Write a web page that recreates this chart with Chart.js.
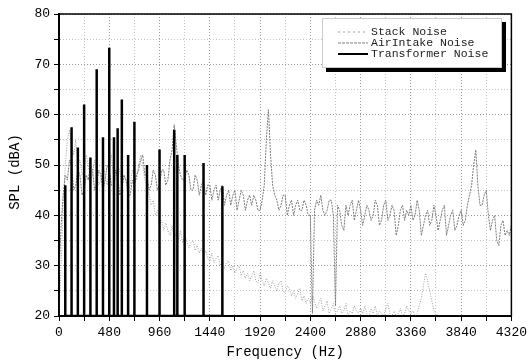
<!DOCTYPE html>
<html>
<head>
<meta charset="utf-8">
<script src="https://cdn.jsdelivr.net/npm/chart.js@4/dist/chart.umd.min.js"></script>
<style>
  html, body { margin: 0; padding: 0; background: #fff; }
  #wrap { width: 531px; height: 364px; }
</style>
</head>
<body>
<div id="wrap"><canvas id="splChart" width="531" height="364"></canvas></div>
<script>
// frequency grid (Hz) shared by the two broadband spectra
var freqHz = [
  0, 20, 40, 60, 80, 100, 120, 140, 160, 180, 200, 220, 240, 260, 280, 300, 320, 340, 360, 380, 400, 420, 440, 460,
  480, 500, 520, 540, 560, 580, 600, 620, 640, 660, 680, 700, 720, 740, 760, 780, 800, 820, 840, 860, 880, 900, 920, 940,
  960, 980, 1000, 1020, 1040, 1060, 1080, 1100, 1120, 1140, 1160, 1180, 1200, 1220, 1240, 1260, 1280, 1300, 1320, 1340, 1360, 1380, 1400, 1420,
  1440, 1460, 1480, 1500, 1520, 1540, 1560, 1580, 1600, 1620, 1640, 1660, 1680, 1700, 1720, 1740, 1760, 1780, 1800, 1820, 1840, 1860, 1880, 1900,
  1920, 1940, 1960, 1980, 2000, 2020, 2040, 2060, 2080, 2100, 2120, 2140, 2160, 2180, 2200, 2220, 2240, 2260, 2280, 2300, 2320, 2340, 2360, 2380,
  2400, 2420, 2440, 2460, 2480, 2500, 2520, 2540, 2560, 2580, 2600, 2620, 2640, 2660, 2680, 2700, 2720, 2740, 2760, 2780, 2800, 2820, 2840, 2860,
  2880, 2900, 2920, 2940, 2960, 2980, 3000, 3020, 3040, 3060, 3080, 3100, 3120, 3140, 3160, 3180, 3200, 3220, 3240, 3260, 3280, 3300, 3320, 3340,
  3360, 3380, 3400, 3420, 3440, 3460, 3480, 3500, 3520, 3540, 3560, 3580, 3600, 3620, 3640, 3660, 3680, 3700, 3720, 3740, 3760, 3780, 3800, 3820,
  3840, 3860, 3880, 3900, 3920, 3940, 3960, 3980, 4000, 4020, 4040, 4060, 4080, 4100, 4120, 4140, 4160, 4180, 4200, 4220, 4240, 4260, 4280, 4300,
  4320
];

var stackNoise = [
  20, 30, 42, 50, 55, 57, 54, 52, 55, 50, 51, 48, 49, 52, 50, 47, 48, 51, 49, 46, 47, 50, 48, 46,
  50, 52, 48, 47, 50, 49, 46, 48, 47, 45, 46, 49, 48, 47, 50, 52, 50, 47, 46, 44, 42, 43, 40, 41,
  38, 39, 37, 38.5, 37, 36, 38, 35.5, 36.5, 35, 37, 34.5, 36, 35, 33.5, 34.5, 35, 33, 34, 32.5, 33.5, 32, 33, 31.5,
  31, 32.5, 30.5, 31.5, 32, 30, 31, 29.5, 30.5, 31, 29, 30, 28.5, 29.5, 30, 28, 29, 27.5, 28.5, 27, 28, 29, 27, 26.5,
  28.5, 27, 26, 27.5, 26.5, 25.5, 27, 26, 25, 26.5, 27, 25, 24.5, 26, 25.5, 24, 25, 23.5, 24.5, 25.5, 23, 24, 22.5, 23.5,
  22.5, 24, 23, 21.5, 22.5, 23.5, 21, 22, 23, 20.5, 21.5, 22.5, 20.5, 21, 22, 20.5, 21, 22.5, 20, 21, 20.5, 22, 21, 20.5,
  21.5, 20.5, 22, 20.5, 20, 21.5, 20.5, 22, 20, 21, 20.5, 20, 21.5, 22.5, 20.5, 20, 21, 20, 20.5, 21.5, 20, 20.5, 22, 21,
  20.5, 21, 20, 20.5, 22, 23.5, 26, 28.5, 27, 25, 23, 21, 20.5, 20, 20, 20, 20, 20, 20, 20, 20, 20, 20, 20,
  20, 20, 20, 20, 20, 20, 20, 20, 20, 20, 20, 20, 20, 20, 20, 20, 20, 20, 20, 20, 20, 20, 20, 20,
  20
];

var airIntakeNoise = [
  28, 38, 44, 48, 47, 51, 50, 45, 46, 49, 48, 44, 45, 48, 47, 50, 49, 45, 46, 49, 48, 45, 47, 50,
  49, 46, 46, 49, 48, 44, 45, 48, 47, 44, 44, 47, 46, 48, 49, 51, 52, 48, 48, 45, 46, 49, 48, 45,
  46, 49, 49, 46, 47, 51, 53, 58, 54, 50, 48, 47, 47, 49, 48, 45, 45, 48, 47, 44, 46, 47, 44, 46,
  46, 43, 45, 46, 43, 45, 46, 42, 44, 45, 42, 44, 45, 41, 43, 45, 44, 41, 43, 44, 42, 44, 43, 41,
  41, 43, 46, 55, 61, 52, 46, 44, 43, 41, 42, 44, 44, 40, 42, 43, 40, 42, 43, 41, 41, 43, 42, 40,
  40, 20.5, 41, 43, 42, 44, 41, 40, 41, 43, 43, 40, 22, 42, 41, 38, 37, 42, 40, 42, 43, 39, 41, 43,
  41, 38, 40, 42, 41, 39, 40, 43, 42, 38, 39, 42, 43, 39, 40, 42, 41, 36, 38, 41, 42, 39, 41, 40,
  42, 39, 40, 43, 41, 36, 38, 40, 41, 38, 39, 42, 40, 37, 39, 41, 42, 36, 38, 40, 41, 37, 38, 40,
  41, 38, 39, 42, 44, 46, 50, 53, 46, 42, 42, 44, 45, 40, 37, 39, 40, 35, 34, 38, 39, 36, 37, 36,
  38
];

// transformer tones: frequency (Hz) and level (dBA) of each line
var toneHz = [60, 120, 180, 240, 300, 360, 420, 480, 525, 560, 600, 660, 720, 840, 960, 1100, 1130, 1200, 1380, 1560];
var toneDb = [46, 57.5, 53.5, 62, 51.5, 69, 55.5, 73.3, 55.5, 57.3, 63, 52, 58.6, 50, 53.1, 57, 52, 52, 50.4, 45.8];

var xTicks = [0, 480, 960, 1440, 1920, 2400, 2880, 3360, 3840, 4320];
var yTicks = [20, 30, 40, 50, 60, 70, 80];

var FLOOR = 20;
var FONT = '"Liberation Mono", "DejaVu Sans Mono", monospace';

function pairs(xs, ys) {
  return xs.map(function(x, i) { return { x: x, y: ys[i] }; });
}

// each tone is a vertical line from the floor up to its level
function tonePoints() {
  var pts = [];
  toneHz.forEach(function(f, i) {
    pts.push({ x: f, y: FLOOR });
    pts.push({ x: f, y: toneDb[i] });
    pts.push({ x: f, y: FLOOR });
  });
  return pts;
}

var legendItems = [
  { label: 'Stack Noise', color: '#a0a0a0', width: 1.2, dash: [2, 3] },
  { label: 'AirIntake Noise', color: '#7c7c7c', width: 1.2, dash: [3, 1] },
  { label: 'Transformer Noise', color: '#000', width: 2, dash: [] }
];

var framePlugin = {
  id: 'frame',
  afterDraw: function(chart) {
    var ctx = chart.ctx, a = chart.chartArea;
    ctx.save();
    // plot frame
    ctx.strokeStyle = '#000';
    ctx.lineWidth = 1.5;
    ctx.strokeRect(a.left, a.top, a.right - a.left, a.bottom - a.top);

    // y title
    ctx.fillStyle = '#000';
    ctx.font = '14px ' + FONT;
    ctx.textAlign = 'center';
    ctx.textBaseline = 'middle';
    ctx.translate(15, 172);
    ctx.rotate(-Math.PI / 2);
    ctx.fillText('SPL (dBA)', 0, 0);
    ctx.restore();

    // legend box with shadow
    ctx.save();
    var bx = 322, by = 18, bw = 180, bh = 50;
    ctx.fillStyle = '#000';
    ctx.fillRect(bx + 4, by + 4, bw, bh);
    ctx.fillStyle = '#fff';
    ctx.fillRect(bx, by, bw, bh);
    ctx.strokeStyle = '#999';
    ctx.lineWidth = 1;
    ctx.setLineDash([1, 1]);
    ctx.strokeRect(bx + 0.5, by + 0.5, bw - 1, bh - 1);
    ctx.setLineDash([]);
    ctx.font = '11.5px ' + FONT;
    ctx.textAlign = 'left';
    ctx.textBaseline = 'middle';
    legendItems.forEach(function(it, i) {
      var y = by + 14 + i * 11;
      ctx.strokeStyle = it.color;
      ctx.lineWidth = it.width;
      ctx.setLineDash(it.dash);
      ctx.beginPath();
      ctx.moveTo(338, y);
      ctx.lineTo(368, y);
      ctx.stroke();
      ctx.setLineDash([]);
      ctx.fillStyle = '#222';
      ctx.fillText(it.label, 371, y);
    });
    ctx.restore();
  }
};

var chart = new Chart(document.getElementById('splChart').getContext('2d'), {
  type: 'line',
  data: {
    datasets: [
      {
        label: 'Transformer Noise',
        data: tonePoints(),
        borderColor: '#000',
        borderWidth: 2.5,
        pointRadius: 0,
        tension: 0,
        order: 0
      },
      {
        label: 'AirIntake Noise',
        data: pairs(freqHz, airIntakeNoise),
        borderColor: '#7c7c7c',
        borderWidth: 1,
        borderDash: [2, 1],
        pointRadius: 0,
        tension: 0,
        order: 1
      },
      {
        label: 'Stack Noise',
        data: pairs(freqHz, stackNoise),
        borderColor: '#a0a0a0',
        borderWidth: 1,
        borderDash: [1, 1.5],
        pointRadius: 0,
        tension: 0,
        order: 2
      }
    ]
  },
  options: {
    responsive: false,
    animation: false,
    devicePixelRatio: 1,
    layout: { padding: { top: 14, right: 18, left: 0, bottom: 0 } },
    plugins: {
      legend: { display: false },
      tooltip: { enabled: false }
    },
    scales: {
      x: {
        type: 'linear',
        min: 0,
        max: 4320,
        afterFit: function(scale) { scale.height = 48; },
        ticks: {
          stepSize: 240,
          autoSkip: false,
          maxRotation: 0,
          padding: 4,
          color: '#000',
          font: { family: FONT, size: 13 },
          callback: function(v) { return xTicks.indexOf(v) >= 0 ? String(v) : ''; }
        },
        grid: {
          color: function(c) { return c.tick && c.tick.value % 480 === 0 ? '#9a9a9a' : '#c4c4c4'; },
          tickColor: '#000',
          tickLength: 5,
          tickBorderDash: []
        },
        border: { color: '#000', width: 2, dash: [1, 2] },
        title: {
          display: true,
          text: 'Frequency (Hz)',
          color: '#000',
          font: { family: FONT, size: 14 },
          padding: { top: 0, bottom: 3 }
        }
      },
      y: {
        min: 20,
        max: 80,
        afterFit: function(scale) { scale.width = 59; },
        ticks: {
          stepSize: 5,
          autoSkip: false,
          padding: 4,
          color: '#000',
          font: { family: FONT, size: 13 },
          callback: function(v) { return yTicks.indexOf(v) >= 0 ? String(v) : ''; }
        },
        grid: {
          color: function(c) { return c.tick && c.tick.value % 10 === 0 ? '#9a9a9a' : '#c4c4c4'; },
          tickColor: '#000',
          tickLength: 5,
          tickBorderDash: []
        },
        border: { color: '#000', width: 2, dash: [1, 2] }
      }
    }
  },
  plugins: [framePlugin]
});
</script>
</body>
</html>
